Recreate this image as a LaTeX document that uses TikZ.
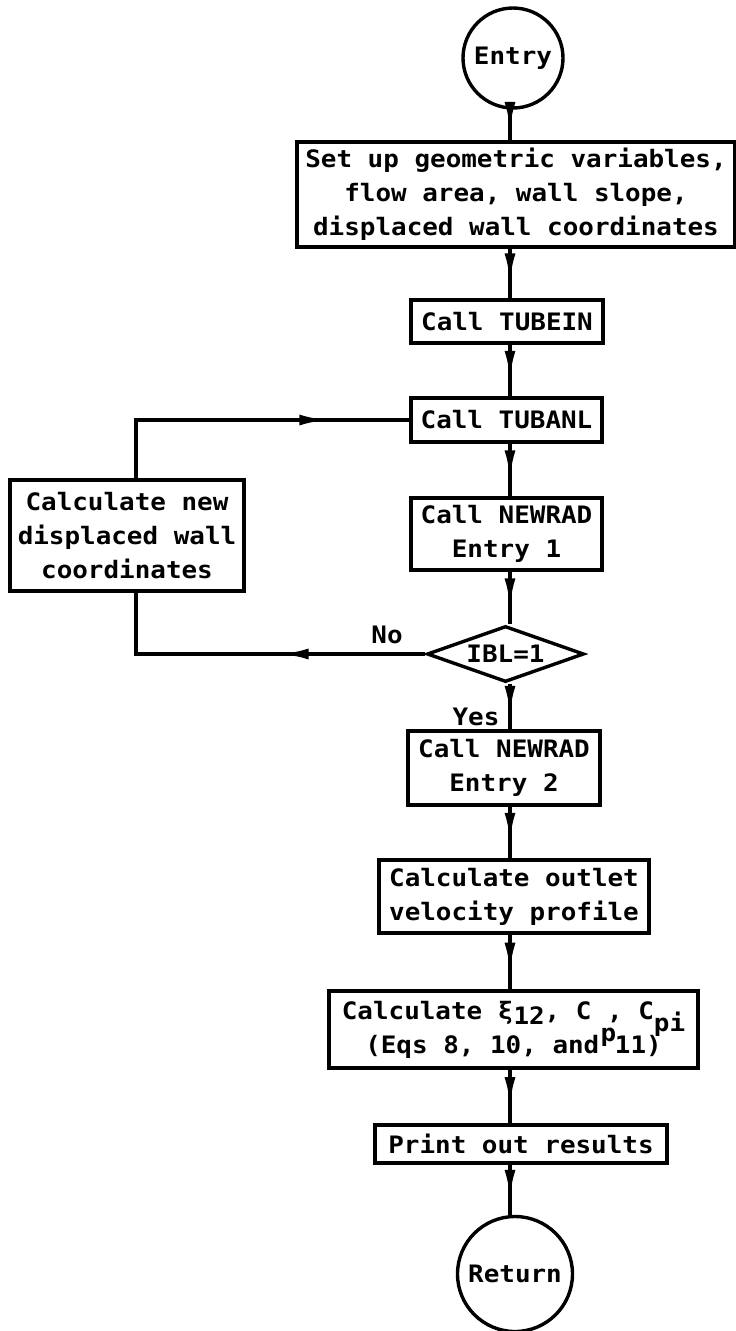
\documentclass[tikz,border=0pt]{standalone}
\usepackage{fontspec}
\setmonofont{DejaVu Sans Mono}[FakeStretch=1.08]
\usetikzlibrary{positioning,arrows.meta,shapes.geometric,calc}
\newcommand{\flowfont}{\ttfamily\bfseries\fontsize{24}{34}\selectfont}
\newcommand{\lowered}[2]{\raisebox{#1}[0pt][0pt]{#2}}
\NewDocumentCommand{\flowarrow}{ O{0.66} m m }
{
  \draw (#2) -- (#3);
  \draw[flowtip] (#2) -- ($(#2)!#1!(#3)$);
}

\begin{document}
\begin{tikzpicture}[x=1pt,y=-1pt,line width=3.4pt,
  every node/.style={font=\flowfont,inner sep=0pt},
  procbox/.style={draw,rectangle,align=center},
  termcirc/.style={draw,circle},
  flowtip/.style={-{Latex[length=28pt,width=11pt]}}]
  \useasboundingbox (0,0) rectangle (736,1331);
  \coordinate (spine) at (510,0);
  \coordinate (loopx) at (136,0);
  \node[termcirc,minimum size=100pt] (entry) at (513,58) {Entry};
  \node[procbox,minimum width=438pt,minimum height=105pt] (setup) at (516,194.5) {Set up geometric variables,\\flow area, wall slope,\\displaced wall coordinates};
  \node[procbox,minimum width=192pt,minimum height=43pt] (tubein) at (507,321.5) {Call TUBEIN};
  \node[procbox,minimum width=191pt,minimum height=44pt] (tubanl) at (506.5,420) {Call TUBANL};
  \node[procbox,minimum width=191pt,minimum height=72pt] (newrad1) at (506.5,534) {Call NEWRAD\\Entry 1};
  \node[draw,diamond,aspect=2.8,minimum width=157pt,minimum height=56pt] (decide) at (505.5,654) {IBL=1};
  \node[procbox,minimum width=192pt,minimum height=74pt] (newrad2) at (504,768) {Call NEWRAD\\Entry 2};
  \node[procbox,minimum width=270pt,minimum height=73pt] (outlet) at (514,896.5) {Calculate outlet\\velocity profile};
  \node[procbox,minimum width=369pt,minimum height=77pt] (calcxi) at (513.5,1029.5) {Calculate ξ\lowered{-5pt}{12}, C\kern9pt\lowered{-22pt}{p}\kern-9pt, C\lowered{-12pt}{pi}\\(Eqs 8, 10, and 11)};
  \node[procbox,minimum width=292pt,minimum height=38pt] (print) at (521,1144) {Print out results};
  \node[termcirc,minimum size=115pt] (ret) at (515,1274) {Return};
  \node[procbox,minimum width=234pt,minimum height=111pt] (newwall) at (127,535.5) {Calculate new\\displaced wall\\coordinates};
  \node (lblno) at (387,635) {No};
  \node (lblyes) at (476,717) {Yes};
  \foreach \a/\b in {entry/setup,setup/tubein,tubein/tubanl,tubanl/newrad1,newrad1/decide,decide/newrad2,newrad2/outlet,outlet/calcxi,calcxi/print,print/ret}
    \flowarrow{\a.south -| spine}{\b.north -| spine};
  \coordinate (loopul) at (loopx |- tubanl.west);
  \coordinate (loopll) at (loopx |- decide.west);
  \draw (newwall.north -| loopx) -- (loopul) -- (tubanl.west);
  \draw[flowtip] (loopul) -- ($(loopul)!0.7!(tubanl.west)$);
  \draw (decide.west) -- (loopll) -- (newwall.south -| loopx);
  \draw[flowtip] (decide.west) -- ($(decide.west)!0.5!(loopll)$);
\end{tikzpicture}
\end{document}
